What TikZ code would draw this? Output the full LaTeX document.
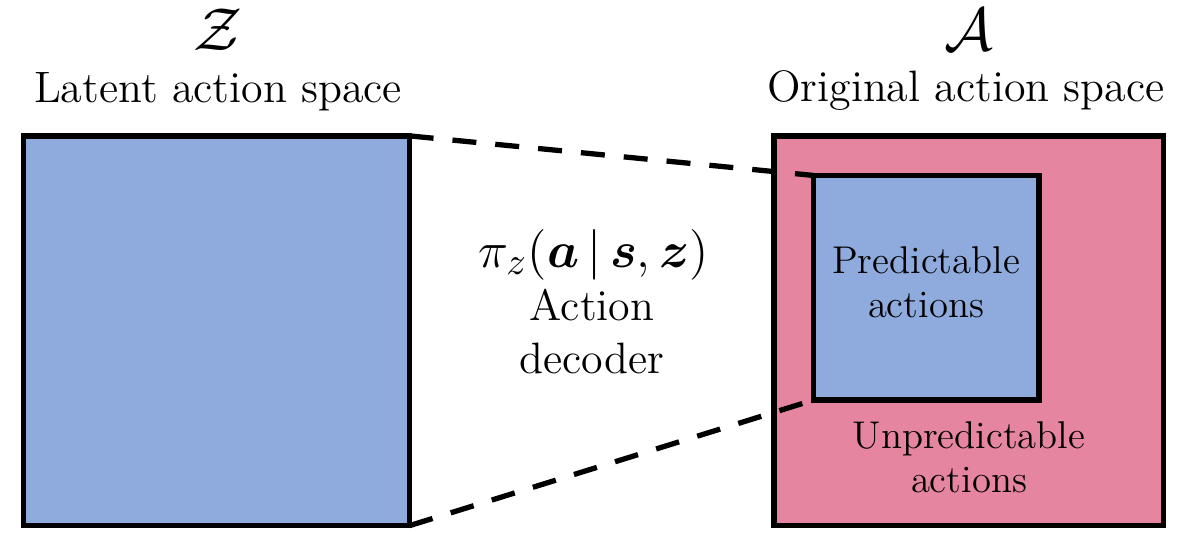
\documentclass[tikz,border=0pt]{standalone}
\usepackage{amsmath,amssymb}
\usepackage{bm}
\usepackage{xcolor}
\usepackage{tikz}
\usetikzlibrary{positioning,calc}
\definecolor{latentblue}{RGB}{143,170,220}
\definecolor{actionpink}{RGB}{230,133,160}
\tikzset{
  space box/.style={
    rectangle,
    draw=black,
    line width=1.6pt,
    inner sep=0pt,
    outer sep=0pt
  },
  space title/.style={
    font=\fontsize{12.5}{15}\selectfont,
    anchor=base
  },
  space symbol/.style={
    font=\fontsize{18.5}{22}\selectfont,
    inner sep=0pt,
    anchor=base
  },
  box label/.style={
    font=\fontsize{11}{12.5}\selectfont,
    align=center,
    anchor=base
  },
  map line/.style={
    line width=1.5pt,
    dash pattern=on 0.24cm off 0.19cm
  }
}
\begin{document}
\begin{tikzpicture}[x=0.01cm, y=-0.01cm]
  \useasboundingbox (0,0) rectangle (1200,533);

  % Latent space
  \node[space box, fill=latentblue, minimum width=3.86cm, minimum height=3.895cm]
    (zsq) at (216.5,330.75) {};
  \node[space symbol] (zsym) at (218,50) {$\mathcal{Z}$};
  \node[space title] (ztitle) at (218,102) {Latent action space};

  % Original action space
  \node[space box, fill=actionpink, minimum width=3.895cm, minimum height=3.895cm]
    (asq) at (968.75,330.75) {};
  \node[space symbol] (asym) at (969,50) {$\mathcal{A}$};
  \node[space title] (atitle) at (966,101) {Original action space};

  % Predictable part
  \node[space box, fill=latentblue, minimum width=2.255cm, minimum height=2.245cm]
    (psq) at (926.25,287.75) {};
  \node[box label] (plabel) at (926,317) {Predictable\\actions};
  \node[box label] (ulabel) at (969,492) {Unpredictable\\actions};

  % Decoder
  \node[space title, font=\fontsize{15}{18}\selectfont] (pol) at (593.5,267)
    {$\pi_z(\bm{a}\,|\,\bm{s},\bm{z})$};
  \node[space title, align=center] (dec) at (592,373) {Action\\decoder};

  % Mapping lines
  \draw[map line] (zsq.north east) -- (psq.north west);
  \draw[map line] (zsq.south east) -- (psq.south west);

\end{tikzpicture}
\end{document}
